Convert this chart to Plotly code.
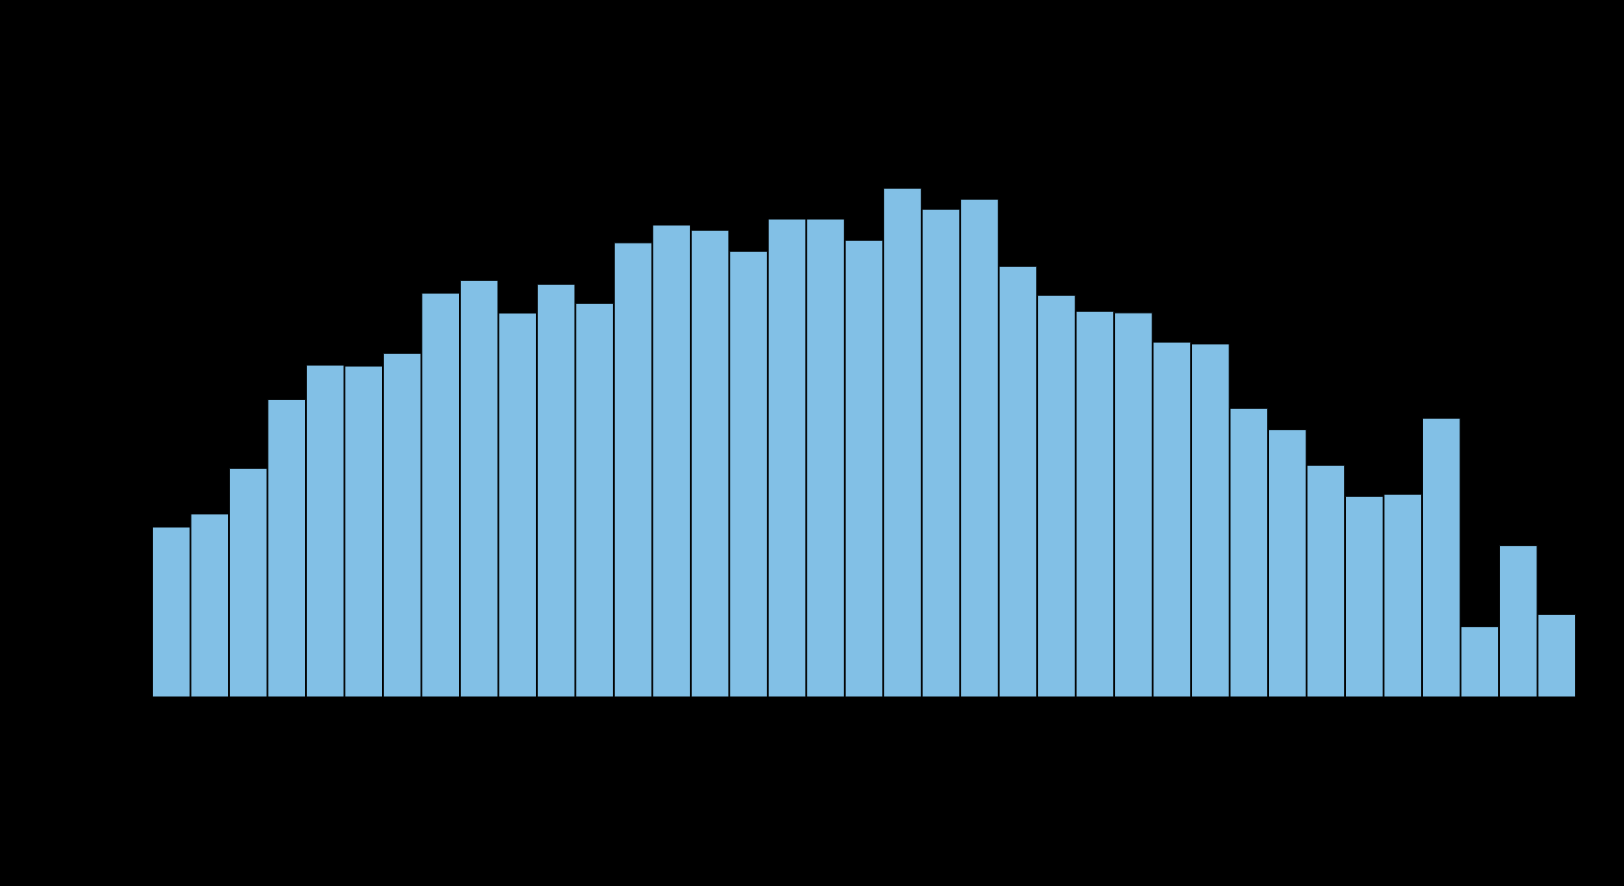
import plotly.graph_objects as go

bins = list(range(1, 38))
counts = [10.51, 11.32, 14.14, 18.40, 20.52, 20.46, 21.25, 24.97, 25.76, 23.74,
          25.52, 24.34, 28.08, 29.18, 28.86, 27.56, 29.55, 29.55, 28.24, 31.46,
          30.16, 30.78, 26.63, 24.84, 23.85, 23.75, 21.94, 21.83, 17.85, 16.53,
          14.33, 12.41, 12.54, 17.24, 4.35, 9.36, 5.11]

fig = go.Figure(go.Bar(
    x=bins, y=counts,
    marker=dict(color="#82C0E6", line=dict(color="#000000", width=1)),
))
fig.update_layout(
    width=1624, height=886,
    margin=dict(l=152, r=48, t=50, b=189),
    paper_bgcolor="#000000", plot_bgcolor="#000000",
    bargap=0.02, showlegend=False,
    font=dict(family="DejaVu Sans", color="#000000"),
)
fig.update_xaxes(range=[0.5, 37.5], showgrid=False, zeroline=False,
                 showticklabels=False, showline=False)
fig.update_yaxes(range=[0, 40], showgrid=False, zeroline=False,
                 showticklabels=False, showline=False)
fig.write_html(
    "out.html",
    config={"displayModeBar": False},
    post_script="document.body.style.margin='0';document.body.style.background='#000';"
                "document.documentElement.style.background='#000';",
)
